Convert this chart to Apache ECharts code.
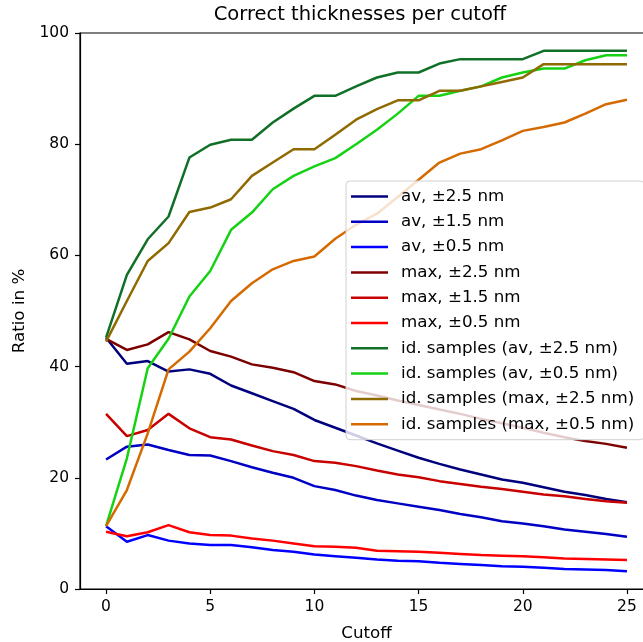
<!DOCTYPE html>
<html>
<head>
<meta charset="utf-8">
<script src="https://cdn.jsdelivr.net/npm/echarts@6/dist/echarts.min.js"></script>
<style>html,body{margin:0;padding:0;background:#fff;}#c{width:643px;height:642px;}</style>
</head>
<body>
<div id="c"></div>
<script>
const cutoff = [0,1,2,3,4,5,6,7,8,9,10,11,12,13,14,15,16,17,18,19,20,21,22,23,24,25];
const xTicks = [0,5,10,15,20,25];
const yTicks = [0,20,40,60,80,100];

const avPm25 = [45.2,40.5,41.0,39.1,39.5,38.7,36.6,35.2,33.8,32.4,30.4,29.0,27.6,26.2,24.9,23.6,22.5,21.5,20.6,19.7,19.1,18.3,17.5,16.9,16.2,15.6];
const avPm15 = [23.3,25.6,26.0,25.0,24.1,24.0,23.0,21.9,20.9,20.0,18.5,17.8,16.8,16.0,15.4,14.8,14.2,13.5,12.9,12.2,11.8,11.3,10.7,10.3,9.9,9.4];
const avPm05 = [11.3,8.5,9.7,8.7,8.2,7.9,7.9,7.5,7.0,6.7,6.2,5.9,5.6,5.3,5.1,5.0,4.7,4.5,4.3,4.1,4.0,3.8,3.6,3.5,3.4,3.2];
const maxPm25 = [45.0,43.0,44.0,46.2,44.9,42.8,41.8,40.4,39.8,39.0,37.4,36.8,35.6,34.8,33.9,33.1,32.3,31.5,30.6,29.8,29.0,28.1,27.3,26.6,26.1,25.4];
const maxPm15 = [31.5,27.5,28.6,31.5,28.9,27.3,26.9,25.8,24.8,24.1,23.0,22.7,22.1,21.3,20.6,20.1,19.4,18.9,18.4,18.0,17.5,17.0,16.7,16.2,15.8,15.5];
const maxPm05 = [10.3,9.5,10.2,11.5,10.2,9.7,9.6,9.1,8.7,8.2,7.7,7.6,7.4,6.9,6.8,6.7,6.5,6.3,6.1,6.0,5.9,5.7,5.5,5.4,5.3,5.2];
const idAvPm25 = [45.2,56.5,62.9,67.0,77.6,79.9,80.8,80.8,83.9,86.4,88.7,88.7,90.4,92.0,92.9,92.9,94.5,95.3,95.3,95.3,95.3,96.8,96.8,96.8,96.8,96.8];
const idAvPm05 = [11.3,23.5,39.7,45.0,52.6,57.2,64.6,67.7,71.9,74.3,76.0,77.5,80.0,82.6,85.5,88.7,88.7,89.6,90.4,92.0,92.9,93.6,93.6,95.1,96.0,96.0];
const idMaxPm25 = [44.5,51.8,59.0,62.2,67.8,68.6,70.1,74.3,76.7,79.1,79.1,81.7,84.4,86.3,87.9,87.9,89.6,89.6,90.4,91.2,92.0,94.4,94.4,94.4,94.4,94.4];
const idMaxPm05 = [11.3,17.8,28.0,39.5,42.7,46.9,51.8,55.0,57.5,59.0,59.8,63.0,65.5,67.5,70.5,73.6,76.7,78.3,79.1,80.7,82.4,83.1,83.9,85.5,87.2,88.0];

const seriesNames = ['av, \u00b12.5 nm','av, \u00b11.5 nm','av, \u00b10.5 nm','max, \u00b12.5 nm','max, \u00b11.5 nm','max, \u00b10.5 nm','id. samples (av, \u00b12.5 nm)','id. samples (av, \u00b10.5 nm)','id. samples (max, \u00b12.5 nm)','id. samples (max, \u00b10.5 nm)'];
const seriesValues = [avPm25, avPm15, avPm05, maxPm25, maxPm15, maxPm05, idAvPm25, idAvPm05, idMaxPm25, idMaxPm05];
const seriesColors = ['#00007d','#0000c4','#0000ff','#7d0000','#c80000','#ff0000','#117028','#15d215','#8e6a00','#d46a00'];

const FONT = 'DejaVu Sans';
const chart = echarts.init(document.getElementById('c'), null, {renderer: 'canvas'});
chart.setOption({
  animation: false,
  backgroundColor: '#fff',
  title: {
    text: 'Correct thicknesses per cutoff',
    left: 360, top: 5, textAlign: 'center', padding: 0,
    textStyle: {fontFamily: FONT, fontSize: 19.5, fontWeight: 'normal', color: '#000'}
  },
  grid: {left: 80, top: 33, bottom: 53, right: -10, containLabel: false, outerBoundsMode: 'none',
         show: true, borderColor: '#000', borderWidth: 1.2, backgroundColor: 'transparent'},
  legend: {
    orient: 'vertical', left: 346, top: 181,
    padding: [6, 10, 6, 5],
    itemWidth: 37, itemHeight: 2.5, itemGap: 6.3,
    icon: 'rect',
    backgroundColor: 'rgba(255,255,255,0.8)',
    borderColor: '#d0d0d0', borderWidth: 1, borderRadius: 4,
    textStyle: {fontFamily: FONT, fontSize: 16.7, color: '#000', lineHeight: 19, padding: [0,0,0,8]},
    data: seriesNames
  },
  xAxis: {
    type: 'value', min: -1.25, max: 26.25,
    name: 'Cutoff', nameLocation: 'middle', nameGap: 36,
    nameTextStyle: {fontFamily: FONT, fontSize: 16.7, color: '#000'},
    axisLine: {show: true, onZero: false, lineStyle: {color: '#000', width: 1.2}},
    axisTick: {show: true, length: 5, inside: false, customValues: xTicks, lineStyle: {color: '#000', width: 1.2}},
    axisLabel: {customValues: xTicks, margin: 10, fontFamily: FONT, fontSize: 15.5, color: '#000'},
    splitLine: {show: false}
  },
  yAxis: {
    type: 'value', min: 0, max: 100, interval: 20,
    name: 'Ratio in %', nameLocation: 'middle', nameGap: 45,
    nameTextStyle: {fontFamily: FONT, fontSize: 16.7, color: '#000'},
    axisLine: {show: true, onZero: false, lineStyle: {color: '#000', width: 1.2}},
    axisTick: {show: true, length: 5, inside: false, lineStyle: {color: '#000', width: 1.2}},
    axisLabel: {margin: 11, fontFamily: FONT, fontSize: 15.5, color: '#000', customValues: yTicks},
    splitLine: {show: false}
  },
  series: seriesNames.map((n, i) => ({
    name: n, type: 'line', symbol: 'none', showSymbol: false,
    color: seriesColors[i],
    lineStyle: {width: 2.5, color: seriesColors[i]},
    itemStyle: {color: seriesColors[i]},
    data: cutoff.map((c, j) => [c, seriesValues[i][j]])
  }))
});
</script>
</body>
</html>
